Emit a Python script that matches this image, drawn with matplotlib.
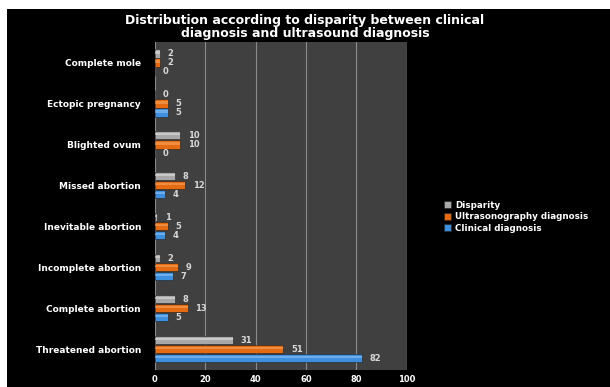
import matplotlib.pyplot as plt
import matplotlib.patches as mpatches
import numpy as np

categories = ["Threatened abortion", "Complete abortion", "Incomplete abortion",
              "Inevitable abortion", "Missed abortion", "Blighted ovum",
              "Ectopic pregnancy", "Complete mole"]
clinical = [82, 5, 7, 4, 4, 0, 5, 0]
ultrasound = [51, 13, 9, 5, 12, 10, 5, 2]
disparity = [31, 8, 2, 1, 8, 10, 0, 2]

series = [("Clinical diagnosis", clinical, "#3f8fdf", "#8cc2f2"),
          ("Ultrasonography diagnosis", ultrasound, "#e56a14", "#f7a45f"),
          ("Disparity", disparity, "#a8a8a8", "#dedede")]

fig = plt.figure(figsize=(6.1, 3.87), dpi=100)
fig.patch.set_facecolor("white")
# black chart area (the picture has a thin white border at top/left)
fig.patches.append(mpatches.Rectangle((7 / 610, 0), 1, 1 - 9 / 387,
                                      transform=fig.transFigure,
                                      facecolor="black", zorder=-1))

ax = fig.add_axes([0.254, 0.045, 0.413, 0.847])
ax.set_facecolor("#404040")

y = np.arange(len(categories))
h = 0.22
offsets = [-h, 0, h]

for (name, vals, col, hi), off in zip(series, offsets):
    vals = np.array(vals)
    ax.barh(y + off, vals, height=h * 0.95, color=col, edgecolor="#202020",
            linewidth=0.4, label=name, zorder=3)
    # highlight band to imitate the glossy 3D look
    ax.barh(y + off + h * 0.12, vals, height=h * 0.3, color=hi, alpha=0.6,
            linewidth=0, zorder=4)
    for yi, v in zip(y + off, vals):
        ax.text(v + 3, yi, str(v), color="#d8d8d8", fontsize=6,
                fontweight="bold", va="center", ha="left", zorder=5)

ax.set_xlim(0, 100)
ax.set_ylim(-0.5, len(categories) - 0.5)
ax.set_xticks(np.arange(0, 101, 20))
ax.set_yticks(y)
ax.set_yticklabels(categories)
ax.tick_params(axis="both", length=0, colors="white", labelsize=6.5)
ax.tick_params(axis="y", pad=10)
ax.tick_params(axis="x", pad=4, labelsize=6)
for lab in ax.get_xticklabels() + ax.get_yticklabels():
    lab.set_fontweight("bold")
ax.grid(axis="x", color="#8a8a8a", linewidth=0.8, zorder=1)
for s in ax.spines.values():
    s.set_visible(False)

fig.text(0.5, 0.93, "Distribution according to disparity between clinical\n"
         "diagnosis and ultrasound diagnosis", color="white", fontsize=9,
         fontweight="bold", ha="center", va="center", linespacing=1.05)

handles, labels = ax.get_legend_handles_labels()
leg = fig.legend(handles[::-1], labels[::-1], loc="center left",
                 bbox_to_anchor=(0.715, 0.44), frameon=False, fontsize=6.3,
                 handlelength=0.8, handleheight=0.8, handletextpad=0.5,
                 labelspacing=0.3)
for t in leg.get_texts():
    t.set_color("white")
    t.set_fontweight("bold")

fig.savefig("out.png", dpi=100, facecolor=fig.get_facecolor())
